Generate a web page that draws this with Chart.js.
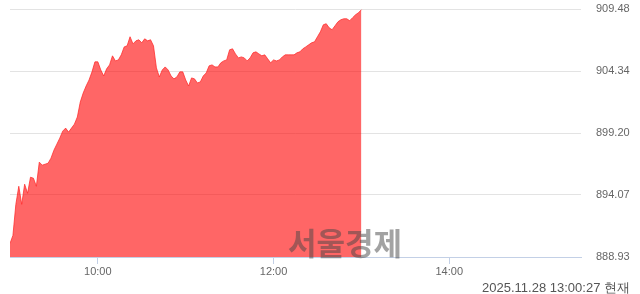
<!DOCTYPE html>
<html>
<head>
<meta charset="utf-8">
<script src="https://cdn.jsdelivr.net/npm/chart.js@4.4.1/dist/chart.umd.min.js"></script>
<style>
html, body { margin: 0; padding: 0; background: #fff; }
#wrap { position: relative; width: 640px; height: 294px; }
#watermark {
    position: absolute; left: 288px; top: 219px; line-height: 31px;
    font: bold 31px "Noto Sans CJK KR"; color: rgba(70, 70, 70, 0.5);
    pointer-events: none;
}
#stamp {
    position: absolute; right: 10px; top: 279px; line-height: 14px;
    font: 13px "Liberation Sans", sans-serif; color: #555;
}
</style>
</head>
<body>
<div id="wrap">
    <canvas id="indexChart" width="640" height="294"></canvas>
    <div id="watermark">서울경제</div>
    <div id="stamp">2025.11.28 13:00:27 현재</div>
</div>
<script>
// session runs 09:00 - 15:30, one reading every 2 minutes up to 13:00
const sessionStart = 540;   // minutes after midnight
const sessionEnd = 930;
const stepMinutes = 2;

const indexValues = [
    890.05, 890.72, 893.29, 894.79, 893.29, 894.96, 894.21, 895.54, 895.46, 894.79,
    896.79, 896.54, 896.62, 896.70, 897.12, 897.78, 898.28, 898.78, 899.36, 899.61,
    899.28, 899.61, 899.94, 900.53, 901.77, 902.52, 903.10, 903.60, 904.27, 905.10,
    905.10, 904.43, 903.93, 904.52, 904.85, 905.60, 905.18, 905.26, 905.68, 906.34,
    906.43, 907.18, 906.59, 906.84, 906.93, 906.68, 907.01, 906.84, 906.93, 906.43,
    904.60, 903.85, 904.43, 904.68, 904.43, 903.93, 903.69, 903.85, 904.27, 904.27,
    903.60, 903.10, 903.77, 903.69, 903.35, 903.44, 903.93, 904.18, 904.77, 904.85,
    904.68, 904.68, 905.02, 905.18, 905.26, 906.10, 906.18, 905.76, 905.43, 905.51,
    905.43, 905.18, 905.43, 905.85, 905.93, 905.76, 905.60, 905.68, 905.35, 905.02,
    905.26, 905.18, 905.26, 905.51, 905.68, 905.68, 905.68, 905.68, 905.85, 905.93,
    906.18, 906.34, 906.51, 906.68, 906.76, 907.18, 907.59, 908.17, 908.26, 907.92,
    907.76, 908.09, 908.42, 908.59, 908.67, 908.67, 908.51, 908.76, 909.00, 909.17,
    909.42
];

const yTicks = [888.93, 894.07, 899.20, 904.34, 909.48];
const xTickMinutes = [600, 720, 840];
const xTickLabels = ['10:00', '12:00', '14:00'];

const points = indexValues.map((v, i) => ({ x: sessionStart + i * stepMinutes, y: v }));

const ctx = document.getElementById('indexChart').getContext('2d');
new Chart(ctx, {
    type: 'line',
    data: {
        datasets: [{
            data: points,
            borderColor: 'rgba(255, 40, 40, 0.75)',
            borderWidth: 1,
            backgroundColor: 'rgba(255, 0, 0, 0.6)',
            fill: 'start',
            pointRadius: 0,
            tension: 0
        }]
    },
    options: {
        responsive: false,
        animation: false,
        layout: { padding: { left: 10, right: 10, top: 9, bottom: 16 } },
        plugins: { legend: { display: false }, tooltip: { enabled: false } },
        scales: {
            x: {
                type: 'linear',
                min: sessionStart,
                max: sessionEnd,
                afterBuildTicks: axis => { axis.ticks = xTickMinutes.map(v => ({ value: v })); },
                afterFit: axis => { axis.height = 21; },
                ticks: {
                    callback: (value) => xTickLabels[xTickMinutes.indexOf(value)],
                    font: { family: 'Liberation Sans', size: 11 },
                    color: '#666',
                    padding: 1,
                    maxRotation: 0
                },
                grid: {
                    drawOnChartArea: false,
                    drawTicks: true,
                    tickLength: 7,
                    tickColor: '#c3d0e6'
                },
                border: { color: '#c3d0e6' }
            },
            y: {
                position: 'right',
                min: yTicks[0],
                max: yTicks[yTicks.length - 1],
                afterBuildTicks: axis => { axis.ticks = yTicks.map(v => ({ value: v })); },
                afterFit: axis => { axis.width = 49; },
                ticks: {
                    callback: (value) => value.toFixed(2),
                    font: { family: 'Liberation Sans', size: 11 },
                    color: '#666',
                    padding: 0
                },
                // invisible tick marks push the labels away from the plot
                grid: { color: '#e3e3e3', drawTicks: true, tickLength: 15, tickColor: 'rgba(0,0,0,0)' },
                border: { display: false }
            }
        }
    }
});
</script>
</body>
</html>
